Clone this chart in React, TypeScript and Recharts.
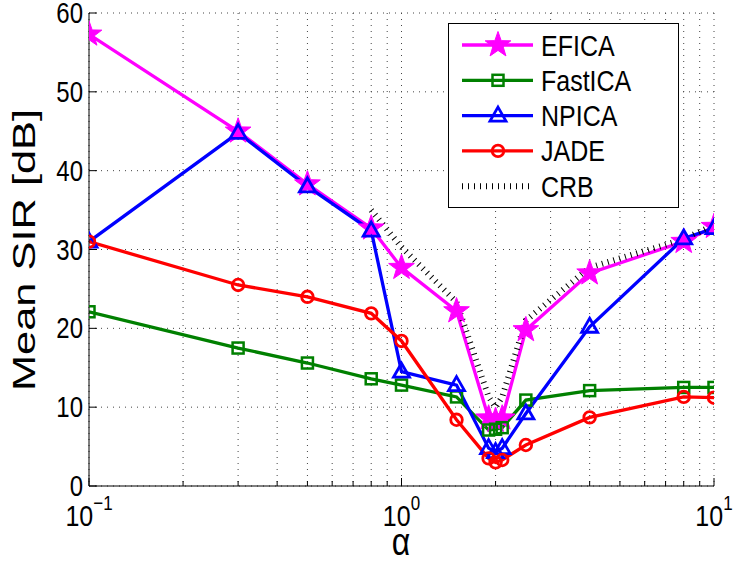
import { CartesianGrid, Legend, Line, LineChart, XAxis, YAxis, Label } from "recharts";

const ALPHA = [0.1, 0.3, 0.5, 0.8, 1, 1.5, 1.9, 2, 2.1, 2.5, 4, 8, 10];
const EFICA = [57.3, 45.0, 38.3, 32.7, 27.7, 22.2, 8.6, 8.3, 8.6, 19.8, 27.0, 31.0, 32.9];
const FASTICA = [22.1, 17.5, 15.6, 13.6, 12.8, 11.3, 7.1, 7.2, 7.4, 10.9, 12.1, 12.5, 12.5];
const NPICA = [31.0, 44.8, 38.0, 32.4, 14.5, 12.8, 4.8, 4.3, 4.8, 9.2, 20.2, 31.4, 32.7];
const JADE = [31.0, 25.5, 24.0, 21.9, 18.4, 8.4, 3.5, 3.0, 3.3, 5.2, 8.7, 11.3, 11.2];
const CRB_ALPHA = [0.8, 1, 1.5, 1.9, 2, 2.1, 2.5, 4, 8, 10];
const CRB = [35.0, 30.3, 23.3, 11.3, 10.0, 11.3, 21.0, 27.7, 31.3, 33.1];

const X_TICKS = [
  0.1, 0.2, 0.3, 0.4, 0.5, 0.6, 0.7, 0.8, 0.9, 1, 2, 3, 4, 5, 6, 7, 8, 9, 10,
];
const X_DECADES = [0.1, 1, 10];
const X_EXP = ["\u22121", "0", "1"];
const Y_TICKS = [0, 10, 20, 30, 40, 50, 60];

const toPoints = (xs: number[], ys: number[]) => xs.map((x, i) => ({ x, y: ys[i] }));

const FONT = "'Liberation Sans', Arial, Helvetica, sans-serif";
// the source figure's text is a little taller than wide
const STRETCH = 1.2;

type MarkerKind = "star" | "square" | "triangle" | "circle" | "none";

function Marker({ kind, cx, cy, color }: { kind: MarkerKind; cx: number; cy: number; color: string }) {
  if (kind === "star") {
    const pts: string[] = [];
    for (let i = 0; i < 10; i++) {
      const r = i % 2 === 0 ? 13.5 : 5.4;
      const a = -Math.PI / 2 + (i * Math.PI) / 5;
      pts.push(`${cx + r * Math.cos(a)},${cy + r * Math.sin(a)}`);
    }
    return <polygon points={pts.join(" ")} fill={color} stroke={color} strokeWidth={1} />;
  }
  if (kind === "square") {
    return <rect x={cx - 5.5} y={cy - 5.5} width={11} height={11} fill="none" stroke={color} strokeWidth={2.5} />;
  }
  if (kind === "triangle") {
    return (
      <polygon
        points={`${cx},${cy - 8.5} ${cx + 8},${cy + 5.5} ${cx - 8},${cy + 5.5}`}
        fill="none"
        stroke={color}
        strokeWidth={2.8}
      />
    );
  }
  if (kind === "circle") {
    return <circle cx={cx} cy={cy} r={5.8} fill="none" stroke={color} strokeWidth={2.8} />;
  }
  return null;
}

const SERIES = [
  { name: "EFICA", data: toPoints(ALPHA, EFICA), color: "#ff00ff", marker: "star" as MarkerKind },
  { name: "FastICA", data: toPoints(ALPHA, FASTICA), color: "#008000", marker: "square" as MarkerKind },
  { name: "NPICA", data: toPoints(ALPHA, NPICA), color: "#0000ff", marker: "triangle" as MarkerKind },
  { name: "JADE", data: toPoints(ALPHA, JADE), color: "#ff0000", marker: "circle" as MarkerKind },
];
const CRB_DATA = toPoints(CRB_ALPHA, CRB);
const CRB_DASH = "1 5";

function TallText({ x, y, size, anchor, children }: any) {
  return (
    <g transform={`translate(${x},${y}) scale(1,${STRETCH})`}>
      <text x={0} y={0} textAnchor={anchor} fontSize={size} fontFamily={FONT} fill="#000">
        {children}
      </text>
    </g>
  );
}

function XTickBottom(props: any) {
  const { x, y, payload } = props;
  const idx = X_DECADES.indexOf(payload.value);
  const major = idx >= 0;
  return (
    <g>
      <line x1={x} x2={x} y1={y} y2={y - (major ? 8 : 5)} stroke="#000" />
      {major && (
        <TallText x={x} y={y + 40} size={25} anchor="middle">
          10
          <tspan dy={-13} fontSize={17}>
            {X_EXP[idx]}
          </tspan>
        </TallText>
      )}
    </g>
  );
}

function XTickTop(props: any) {
  const { x, y, payload } = props;
  const major = X_DECADES.indexOf(payload.value) >= 0;
  return <line x1={x} x2={x} y1={y} y2={y + (major ? 8 : 5)} stroke="#000" />;
}

function YTickLeft(props: any) {
  const { x, y, payload } = props;
  return (
    <g>
      <line x1={x} x2={x + 8} y1={y} y2={y} stroke="#000" />
      <TallText x={x - 6} y={y + 10} size={24} anchor="end">
        {payload.value}
      </TallText>
    </g>
  );
}

function YTickRight(props: any) {
  const { x, y } = props;
  return <line x1={x} x2={x - 8} y1={y} y2={y} stroke="#000" />;
}

function LegendBox() {
  const rows = [
    ...SERIES.map((s) => ({ name: s.name, color: s.color, marker: s.marker, dash: undefined as string | undefined, w: 3.3 })),
    { name: "CRB", color: "#000", marker: "none" as MarkerKind, dash: CRB_DASH, w: 6 },
  ];
  return (
    <svg width={231} height={185} style={{ display: "block" }}>
      <rect x={0.5} y={0.5} width={230} height={184} fill="#fff" stroke="#000" />
      {rows.map((r, i) => {
        const cy = 22 + i * 35.3;
        return (
          <g key={r.name}>
            <line x1={14} x2={85} y1={cy} y2={cy} stroke={r.color} strokeWidth={r.w} strokeDasharray={r.dash} />
            <Marker kind={r.marker} cx={50} cy={cy} color={r.color} />
            <TallText x={93} y={cy + 10.5} size={25} anchor="start">
              {r.name}
            </TallText>
          </g>
        );
      })}
    </svg>
  );
}

export default function App() {
  return (
    <div style={{ position: "absolute", left: 0, top: 0, width: 733, height: 561, background: "#fff" }}>
      <LineChart width={733} height={561} margin={{ top: 13, right: 19, bottom: 0, left: 0 }}>
        <CartesianGrid stroke="#444" strokeDasharray="1 5" />
        <XAxis
          dataKey="x"
          type="number"
          scale="log"
          domain={[0.1, 10]}
          ticks={X_TICKS}
          interval={0}
          allowDataOverflow
          height={75}
          tickSize={0}
          tickMargin={0}
          tickLine={false}
          axisLine={{ stroke: "#000", strokeWidth: 1 }}
          tick={<XTickBottom />}
        >
          <Label
            content={() => (
              <TallText x={401} y={555} size={32} anchor="middle">
                α
              </TallText>
            )}
          />
        </XAxis>
        <XAxis
          xAxisId="top"
          orientation="top"
          type="number"
          scale="log"
          domain={[0.1, 10]}
          ticks={X_TICKS}
          interval={0}
          allowDataOverflow
          height={0}
          tickSize={0}
          tickMargin={0}
          tickLine={false}
          axisLine={{ stroke: "#000", strokeWidth: 1 }}
          tick={<XTickTop />}
        />
        <YAxis
          type="number"
          domain={[0, 60]}
          ticks={Y_TICKS}
          interval={0}
          width={89}
          tickSize={0}
          tickMargin={0}
          tickLine={false}
          axisLine={{ stroke: "#000", strokeWidth: 1 }}
          tick={<YTickLeft />}
        >
          <Label
            content={() => (
              <g transform="translate(35,250) rotate(-90) scale(1.4,1)">
                <text x={0} y={0} textAnchor="middle" fontSize={31} fontFamily={FONT} fill="#000">
                  Mean SIR [dB]
                </text>
              </g>
            )}
          />
        </YAxis>
        <YAxis
          yAxisId="right"
          orientation="right"
          type="number"
          domain={[0, 60]}
          ticks={Y_TICKS}
          interval={0}
          width={0}
          tickSize={0}
          tickMargin={0}
          tickLine={false}
          axisLine={{ stroke: "#000", strokeWidth: 1 }}
          tick={<YTickRight />}
        />
        {SERIES.map((s) => (
          <Line
            key={s.name}
            data={s.data}
            dataKey="y"
            name={s.name}
            stroke={s.color}
            strokeWidth={3.3}
            isAnimationActive={false}
            dot={(p: any) => <Marker key={`${s.name}-${p.index}`} kind={s.marker} cx={p.cx} cy={p.cy} color={s.color} />}
            activeDot={false}
          />
        ))}
        <Line
          data={CRB_DATA}
          dataKey="y"
          name="CRB"
          stroke="#000"
          strokeWidth={6}
          strokeDasharray={CRB_DASH}
          dot={false}
          activeDot={false}
          isAnimationActive={false}
        />
        <Legend
          layout="vertical"
          align="center"
          verticalAlign="middle"
          wrapperStyle={{ left: 448, top: 23, width: 231, height: 185 }}
          content={() => <LegendBox />}
        />
      </LineChart>
    </div>
  );
}
